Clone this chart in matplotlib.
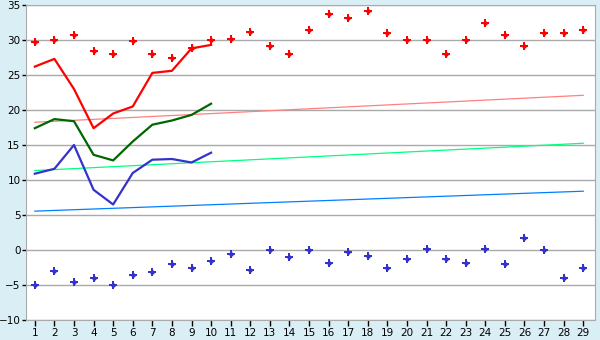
import matplotlib
matplotlib.use("Agg")
import matplotlib.pyplot as plt

days = list(range(1, 30))

# daily max (red markers) and daily min (blue markers)
t_max = [29.7, 30.0, 30.7, 28.5, 28.0, 29.8, 28.0, 27.5, 28.8, 30.0,
         30.1, 31.1, 29.2, 28.0, 31.4, 33.7, 33.2, 34.2, 31.0, 30.0,
         30.0, 28.0, 30.0, 32.4, 30.7, 29.2, 31.0, 31.0, 31.5]
t_min = [-5.0, -3.0, -4.5, -4.0, -5.0, -3.5, -3.2, -2.0, -2.5, -1.5,
         -0.6, -2.9, 0.0, -1.0, 0.0, -1.8, -0.3, -0.8, -2.5, -1.3,
         0.1, -1.3, -1.9, 0.2, -2.0, 1.7, 0.0, -4.0, -2.6]

# current month lines (days 1-10)
line_days = list(range(1, 11))
red_line = [26.2, 27.3, 23.0, 17.4, 19.5, 20.5, 25.3, 25.6, 28.8, 29.3]
green_line = [17.4, 18.7, 18.4, 13.6, 12.8, 15.5, 17.9, 18.5, 19.3, 20.9]
blue_line = [10.9, 11.6, 15.0, 8.6, 6.5, 11.0, 12.9, 13.0, 12.5, 13.9]

# long-term trend lines (start and end values)
trend_days = [1, 29]
trend_max = [18.25, 22.1]
trend_mean = [11.35, 15.25]
trend_min = [5.55, 8.4]

bg = "#daeff5"
fig = plt.figure(figsize=(6, 3.4), dpi=100, facecolor=bg)
ax = fig.add_axes([26 / 600, 1 - 320 / 340, 569 / 600, 315 / 340])
ax.set_facecolor("white")

ax.plot(trend_days, trend_max, color="#ff8080", lw=0.9)
ax.plot(trend_days, trend_mean, color="#00ff80", lw=0.9)
ax.plot(trend_days, trend_min, color="#0080ff", lw=0.9)

ax.plot(line_days, red_line, color="#ff0000", lw=1.6)
ax.plot(line_days, green_line, color="#006600", lw=1.6)
ax.plot(line_days, blue_line, color="#3333cc", lw=1.6)

# plus shaped markers with a filled diamond core
for vals, c in [(t_max, "#ff0000"), (t_min, "#3333cc")]:
    ax.plot(days, vals, ls="none", marker="P", ms=5.5, color=c, mew=0)
    ax.plot(days, vals, ls="none", marker="D", ms=3, color=c, mew=0)

ax.set_xlim(0.55, 29.6)
ax.set_ylim(-10, 35)
ax.set_xticks(days)
ax.set_yticks(range(-10, 36, 5))
ax.yaxis.grid(True, color="#aaaaaa", lw=1)
ax.set_axisbelow(True)
for s in ax.spines.values():
    s.set_color("#aaaaaa")
ax.tick_params(axis="both", colors="black", labelsize=7.5, length=4, width=1, pad=2)
ax.tick_params(axis="y", length=3, pad=1)

fig.savefig("out.png", dpi=100, facecolor=bg)
